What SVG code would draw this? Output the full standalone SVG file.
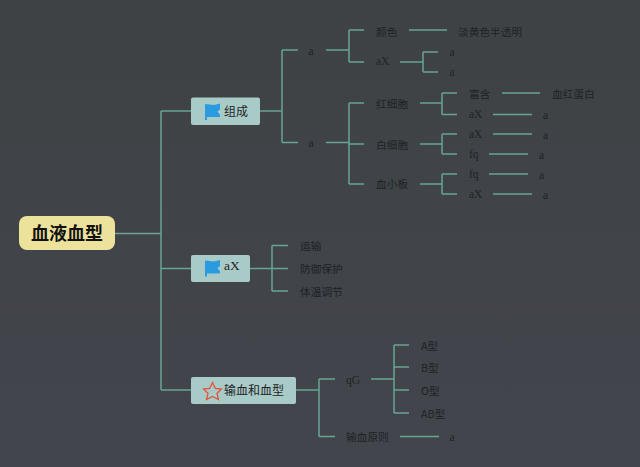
<svg xmlns="http://www.w3.org/2000/svg" width="640" height="467" viewBox="0 0 640 467">
<style>
text{font-family:"Noto Sans CJK SC","Liberation Serif",sans-serif;font-size:10.7px;fill:#1e2225;dominant-baseline:middle}
.s{font-family:"Liberation Serif","Noto Sans CJK SC",serif;font-size:11.5px;fill:#1e2225}
.m{font-size:12px}
.c path{fill:none;stroke:#66a495;stroke-width:1.5}
.b{fill:#a9cbc8}
.f{fill:#2a9be0}
</style>
<defs>
<linearGradient id="bg" x1="0" y1="0" x2="0" y2="1"><stop offset="0" stop-color="#3e4244"/><stop offset="1" stop-color="#43454d"/></linearGradient>
<path id="flag" d="M0 0.500L9 1.500L15 0V6L12.500 8L15 11.500V13.500H2V16.500H0Z"/>
</defs>
<rect width="640" height="467" fill="url(#bg)"/>
<g class="c" id="connectors">
<path d="M115 233.5H161M161 111V390M161 111H191M161 268.5H191M161 390H191"/>
<path d="M260 111H282M282 50V142.5M282 50H298M282 142.5H298"/>
<path d="M326 50H349M349 30V62M349 30H364M349 62H364M409 30H447M400 62H423M423 52V72M423 52H438M423 72H438"/>
<path d="M326 142.5H349M349 103V184M349 103H364M349 144H364M349 184H364"/>
<path d="M420 103H442M442 93V114.5M442 93H457M442 114.5H457M502 93H540M493 114.5H532"/>
<path d="M420 144H442M442 134V154M442 134H457M442 154H457M493 134H532M489 154H528"/>
<path d="M420 184H442M442 174V194M442 174H457M442 194H457M489 174H528M493 194H532"/>
<path d="M250 268.5H272M272 245.5V291M272 245.5H288M272 291H288"/>
<path d="M272 268.5H288"/>
<path d="M296 390H319M319 379V436.5M319 379H335M319 436.5H335M371 379H394M394 345V413M394 345H409M394 367H409M394 390H409M394 413H409M400 436.5H439"/>
</g>
<g id="root"><rect x="19" y="216" width="96" height="34" rx="8" fill="#ece29c"/><text x="67" y="235" text-anchor="middle" style="font-size:18px;font-weight:700;fill:#111">血液血型</text></g>
<g id="n-zucheng"><rect class="b" x="191" y="97.5" width="69" height="27.5" rx="2"/><use href="#flag" class="f" x="205" y="103.500"/><text class="m" x="224" y="113">组成</text></g>
<g id="n-ax"><rect class="b" x="191" y="255" width="59" height="27" rx="2"/><use href="#flag" class="f" x="205" y="260"/><text class="s" x="224" y="267" style="font-size:13.500px">aX</text></g>
<g id="n-shuxue"><rect class="b" x="191" y="377" width="105" height="27" rx="2"/><path d="M212.500 382.500L215.300 388.300L221.500 389L217 393.300L218.500 399.500L212.500 396.500L206.500 399.500L208 393.300L203.500 389L209.700 388.300Z" fill="none" stroke="#e2533f" stroke-width="1.300"/><text class="m" x="224" y="392">输血和血型</text></g>
<g id="n1"><text class="s" x="308.500" y="52">a</text></g>
<g id="n2"><text class="s" x="308.500" y="144">a</text></g>
<g id="n3"><text x="376" y="33">颜色</text></g>
<g id="n4"><text x="458" y="33">淡黄色半透明</text></g>
<g id="n5"><text class="s" x="376" y="62.500">aX</text></g>
<g id="n6"><text class="s" x="449.500" y="53">a</text></g>
<g id="n7"><text class="s" x="449.500" y="73">a</text></g>
<g id="n8"><text x="376" y="105">红细胞</text></g>
<g id="n9"><text x="376" y="146">白细胞</text></g>
<g id="n10"><text x="376" y="185">血小板</text></g>
<g id="n11"><text x="469" y="95">富含</text></g>
<g id="n12"><text x="552" y="95">血红蛋白</text></g>
<g id="n13"><text class="s" x="469" y="115.500">aX</text></g>
<g id="n14"><text class="s" x="543" y="116">a</text></g>
<g id="n15"><text class="s" x="469" y="135.500">aX</text></g>
<g id="n16"><text class="s" x="543" y="136">a</text></g>
<g id="n17"><text class="s" x="469" y="155.500">fq</text></g>
<g id="n18"><text class="s" x="539" y="156">a</text></g>
<g id="n19"><text class="s" x="469" y="175.500">fq</text></g>
<g id="n20"><text class="s" x="539" y="176">a</text></g>
<g id="n21"><text class="s" x="469" y="195.500">aX</text></g>
<g id="n22"><text class="s" x="543" y="196">a</text></g>
<g id="n23"><text x="300" y="247.500">运输</text></g>
<g id="n24"><text x="300" y="270.500">防御保护</text></g>
<g id="n25"><text x="300" y="293">体温调节</text></g>
<g id="n26"><text class="s" x="346" y="381">qG</text></g>
<g id="n27"><text x="346" y="438.500">输血原则</text></g>
<g id="n28"><text class="s" x="449.500" y="438">a</text></g>
<g id="n29"><text x="421" y="347">A型</text></g>
<g id="n30"><text x="421" y="369">B型</text></g>
<g id="n31"><text x="421" y="392">O型</text></g>
<g id="n32"><text x="421" y="415">AB型</text></g>
</svg>
